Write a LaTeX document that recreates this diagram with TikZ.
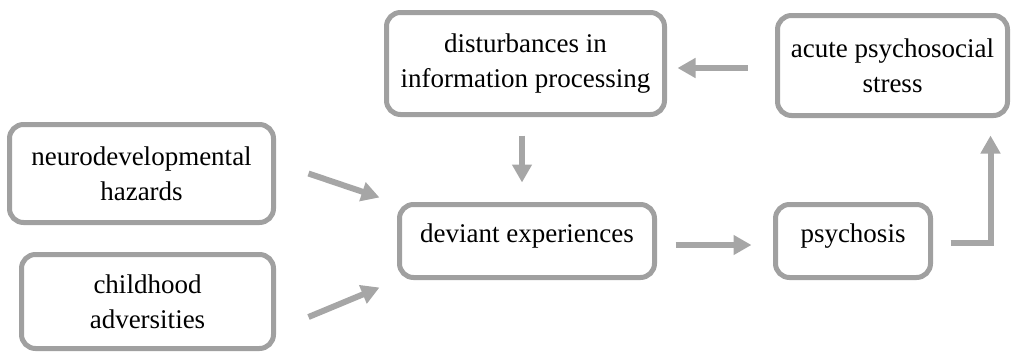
\documentclass[tikz,border=0pt]{standalone}
\usepackage{fontspec}
\setmainfont{Liberation Serif}
\usetikzlibrary{arrows.meta}

\definecolor{boxgray}{HTML}{A0A0A0}
\definecolor{arrgray}{HTML}{A6A6A6}

\begin{document}
\begin{tikzpicture}[
  x=1pt,y=-1pt,
  box/.style={draw=boxgray,line width=5pt,rounded corners=14pt,align=center,
    inner sep=0pt,font=\fontsize{27}{35}\selectfont},
  onebox/.style={box,text depth=16pt},
  arr/.style={draw=arrgray,line width=6pt,-{Triangle[length=18pt,width=19pt]}}
]
  \useasboundingbox (0,0) rectangle (1014,354);

  \node[box,minimum width=264pt,minimum height=98pt] (neuro) at (141.5,173.5)
    {neurodevelopmental\\hazards};
  \node[box,minimum width=252pt,minimum height=94pt] (child) at (147.5,301.5)
    {childhood\\adversities};
  \node[box,minimum width=278pt,minimum height=102pt] (dist) at (525.5,63.5)
    {disturbances in\\information processing};
  \node[box,minimum width=230pt,minimum height=100pt] (acute) at (892.5,65.5)
    {acute psychosocial\\stress};
  \node[onebox,minimum width=255pt,minimum height=73pt] (dev) at (527,241)
    {deviant experiences};
  \node[onebox,minimum width=155pt,minimum height=73pt] (psy) at (853,241)
    {psychosis};

  % risk factors into deviant experiences
  \draw[arr] ([xshift=32.5pt]neuro.east) -- ([xshift=-17.5pt,yshift=4.5pt]dev.north west);
  \draw[arr] ([xshift=32.5pt,yshift=-15.5pt]child.east) -- ([xshift=-17.5pt,yshift=-7.5pt]dev.south west);
  % the loop
  \draw[arr,shorten <=18.5pt,shorten >=19.5pt] ([xshift=-3.5pt]dist.south) -- ([xshift=-5pt]dev.north);
  \draw[arr,shorten <=18.5pt,shorten >=21.5pt] ([yshift=-4pt]dev.east) -- ([yshift=-4pt]psy.west);
  \draw[arr] ([xshift=17.5pt,yshift=-2pt]psy.east) -| ([xshift=-19.5pt,yshift=-17.5pt]acute.south east);
  \draw[arr,shorten <=27.5pt,shorten >=10.5pt] ([yshift=-2.5pt]acute.west) -- ([yshift=-4.5pt]dist.east);
\end{tikzpicture}
\end{document}
